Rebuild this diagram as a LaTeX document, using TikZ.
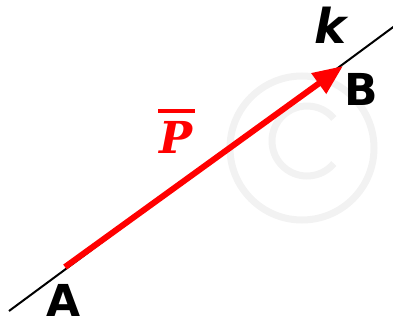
\documentclass[tikz,border=0pt]{standalone}
\usepackage{fontspec}
\setmainfont{DejaVu Sans}
\newfontfamily\pfont{DejaVu Serif}
\usetikzlibrary{arrows.meta}
\begin{document}
\begin{tikzpicture}[x=1pt,y=-1pt,
  lbl/.style={font=\fontsize{44}{44}\selectfont\bfseries, inner sep=0pt, anchor=base},
  ilbl/.style={font=\fontsize{48}{48}\selectfont\bfseries\itshape, inner sep=0pt, anchor=base},
  vec/.style={red, line width=6pt, -{Triangle[length=30pt,width=24pt]}}]
\useasboundingbox (0,0) rectangle (393,321);
% watermark
\draw[black!5, line width=7pt] (302,148) circle (72);
\draw[black!5, line width=7pt] (307,141) ++(40:35) arc (40:320:35);
% line k
\coordinate (s) at (9,311);
\coordinate (e) at (400,22);
\draw[line width=2pt] (s) -- (e);
% vector
\coordinate (a) at (65,267);
\coordinate (b) at (343,66);
\draw[vec] (a) -- (b);
% labels
\node[lbl] (A) at (64,316) {A};
\node[lbl] (B) at (361,105) {B};
\node[ilbl] (k) at (330,44) {k};
\node[font=\fontsize{44}{44}\selectfont\pfont\bfseries\itshape, inner sep=0pt, anchor=base, red] (P) at (176,153) {P};
\draw[red, line width=4pt] (158,110.5) -- (195,110.5);
\end{tikzpicture}
\end{document}
